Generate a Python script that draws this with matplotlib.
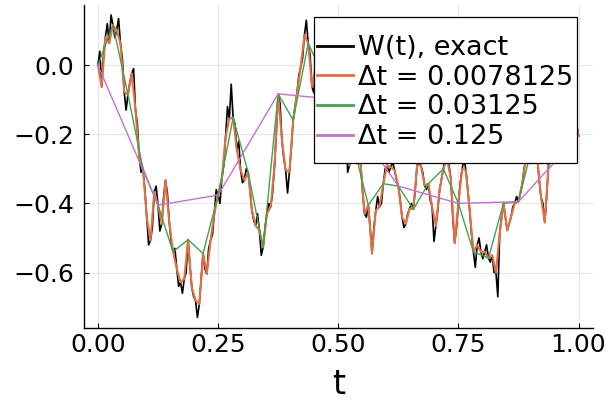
import numpy as np
import matplotlib.pyplot as plt
from matplotlib.patches import Rectangle

# sampled Brownian path and its coarser samplings
dt_exact = 1 / 256
w_exact = [0.0, 0.04, -0.063, 0.03, 0.082, 0.12, 0.063, 0.145, 0.116, 0.08,
           0.101, 0.135, 0.063, 0.02, -0.077, -0.13, -0.085, -0.05, -0.024, -0.01,
           -0.130, -0.17, -0.266, -0.31, -0.300, -0.36, -0.440, -0.52, -0.507, -0.47,
           -0.367, -0.35, -0.405, -0.48, -0.459, -0.38, -0.333, -0.37, -0.454, -0.51,
           -0.540, -0.53, -0.589, -0.64, -0.628, -0.66, -0.618, -0.60, -0.505, -0.58,
           -0.643, -0.67, -0.681, -0.73, -0.691, -0.62, -0.545, -0.59, -0.604, -0.53,
           -0.507, -0.49, -0.430, -0.36, -0.376, -0.40, -0.329, -0.29, -0.208, -0.12,
           -0.155, -0.055, -0.152, -0.17, -0.246, -0.22, -0.304, -0.34, -0.333, -0.30,
           -0.310, -0.36, -0.420, -0.45, -0.464, -0.43, -0.478, -0.55, -0.527, -0.47,
           -0.430, -0.40, -0.410, -0.37, -0.295, -0.20, -0.083, -0.11, -0.217, -0.27,
           -0.304, -0.37, -0.309, -0.24, -0.159, -0.12, -0.082, -0.03, -0.005, 0.02,
           0.087, 0.13, 0.063, 0.03, -0.063, -0.08, 0.000, -0.02, -0.050, -0.06,
           -0.030, -0.01, 0.020, -0.03, -0.060, -0.10, -0.120, -0.11, -0.100, -0.07,
           -0.050, -0.10, -0.130, -0.31, -0.290, -0.24, -0.230, -0.18, -0.200, -0.25,
           -0.290, -0.37, -0.430, -0.44, -0.405, -0.47, -0.545, -0.47, -0.420, -0.38,
           -0.410, -0.40, -0.343, -0.30, -0.290, -0.31, -0.295, -0.28, -0.304, -0.33,
           -0.350, -0.39, -0.440, -0.47, -0.459, -0.43, -0.415, -0.40, -0.417, -0.36,
           -0.290, -0.28, -0.290, -0.31, -0.348, -0.36, -0.343, -0.39, -0.410, -0.51,
           -0.465, -0.42, -0.360, -0.33, -0.300, -0.26, -0.270, -0.29, -0.330, -0.44,
           -0.515, -0.47, -0.400, -0.34, -0.300, -0.27, -0.304, -0.36, -0.420, -0.49,
           -0.540, -0.585, -0.520, -0.50, -0.540, -0.56, -0.540, -0.52, -0.558, -0.57,
           -0.550, -0.60, -0.600, -0.67, -0.487, -0.44, -0.400, -0.44, -0.478, -0.46,
           -0.440, -0.41, -0.400, -0.38, -0.395, -0.37, -0.343, -0.30, -0.270, -0.24,
           -0.220, -0.20, -0.220, -0.25, -0.270, -0.33, -0.382, -0.40, -0.455, -0.38,
           -0.290, -0.24, -0.200, -0.17, -0.150, -0.12, -0.100, -0.13, -0.150, -0.18,
           -0.200, -0.16, -0.120, -0.13, -0.150, -0.17, -0.205]

dt_fine = 0.0078125
w_fine = [0.0, -0.063, 0.082, 0.063, 0.116, 0.101, 0.063, -0.077, -0.085, -0.024,
          -0.130, -0.266, -0.300, -0.440, -0.507, -0.367, -0.405, -0.459, -0.333, -0.454,
          -0.540, -0.589, -0.628, -0.618, -0.505, -0.643, -0.681, -0.691, -0.545, -0.604,
          -0.507, -0.430, -0.376, -0.329, -0.208, -0.155, -0.152, -0.246, -0.304, -0.333,
          -0.310, -0.420, -0.464, -0.478, -0.527, -0.430, -0.410, -0.295, -0.083, -0.217,
          -0.304, -0.309, -0.159, -0.082, -0.005, 0.087, 0.063, -0.063, 0.000, -0.050,
          -0.030, 0.020, -0.060, -0.120, -0.100, -0.050, -0.130, -0.290, -0.230, -0.200,
          -0.290, -0.430, -0.405, -0.545, -0.420, -0.410, -0.343, -0.290, -0.295, -0.304,
          -0.350, -0.440, -0.459, -0.415, -0.417, -0.290, -0.290, -0.348, -0.343, -0.410,
          -0.465, -0.360, -0.300, -0.270, -0.330, -0.515, -0.400, -0.300, -0.304, -0.420,
          -0.540, -0.520, -0.540, -0.540, -0.558, -0.550, -0.600, -0.487, -0.400, -0.478,
          -0.440, -0.400, -0.395, -0.343, -0.270, -0.220, -0.220, -0.270, -0.382, -0.455,
          -0.290, -0.200, -0.150, -0.100, -0.150, -0.200, -0.120, -0.150, -0.205]

dt_mid = 0.03125
w_mid = [0.0, 0.116, -0.085, -0.300, -0.405, -0.540, -0.505, -0.545, -0.376,
         -0.152, -0.310, -0.527, -0.083, -0.159, 0.063, -0.030, -0.100, -0.230,
         -0.405, -0.343, -0.350, -0.417, -0.343, -0.300, -0.400, -0.540, -0.558,
         -0.400, -0.395, -0.220, -0.290, -0.150, -0.205]

dt_coarse = 0.125
w_coarse = [0.0, -0.405, -0.376, -0.083, -0.100, -0.350, -0.400, -0.395, -0.205]

series = [
    (dt_exact, w_exact, "W(t), exact", "black", 1.2),
    (dt_fine, w_fine, "Δt = 0.0078125", "#E36F47", 1.5),
    (dt_mid, w_mid, "Δt = 0.03125", "#3EA44E", 1.0),
    (dt_coarse, w_coarse, "Δt = 0.125", "#C371D2", 1.0),
]

fig = plt.figure(figsize=(6.06, 4.0), dpi=100)
ax = fig.add_axes([0.1378, 0.18125, 0.8407, 0.80625])

for dt, w, lab, col, lw in series:
    t = np.arange(len(w)) * dt
    ax.plot(t, w, color=col, lw=lw, label=lab)

ax.set_xlim(-0.03, 1.03)
ax.set_ylim(-0.759, 0.174)
ax.set_xticks([0.0, 0.25, 0.5, 0.75, 1.0])
ax.set_xticklabels(["0.00", "0.25", "0.50", "0.75", "1.00"])
ax.set_yticks([-0.6, -0.4, -0.2, 0.0])
ax.set_yticklabels(["\u22120.6", "\u22120.4", "\u22120.2", "0.0"])
ax.grid(True, color="#e6e6e6", lw=0.8)
ax.set_axisbelow(True)
for s in ["top", "right"]:
    ax.spines[s].set_visible(False)
for s in ["left", "bottom"]:
    ax.spines[s].set_linewidth(1.0)
ax.tick_params(axis="both", direction="in", length=3.5, width=0.8, labelsize=18)
ax.tick_params(axis="x", pad=4)
ax.tick_params(axis="y", pad=6.5)
ax.set_xlabel("t", fontsize=24, labelpad=8)

# legend box drawn separately so the padding matches
box = Rectangle((0.4524, 0.511), 0.968 - 0.4524, 0.9637 - 0.511, transform=ax.transAxes,
                facecolor="white", edgecolor="black", lw=0.9, zorder=4)
ax.add_patch(box)
leg = ax.legend(loc="center", bbox_to_anchor=(0.7102, 0.728), frameon=False, fontsize=19.5,
                handlelength=1.3, handletextpad=0.2, labelspacing=0.13, borderpad=0.2)
for h in leg.get_lines():
    h.set_linewidth(2.0)

fig.savefig("out.png", dpi=100)
